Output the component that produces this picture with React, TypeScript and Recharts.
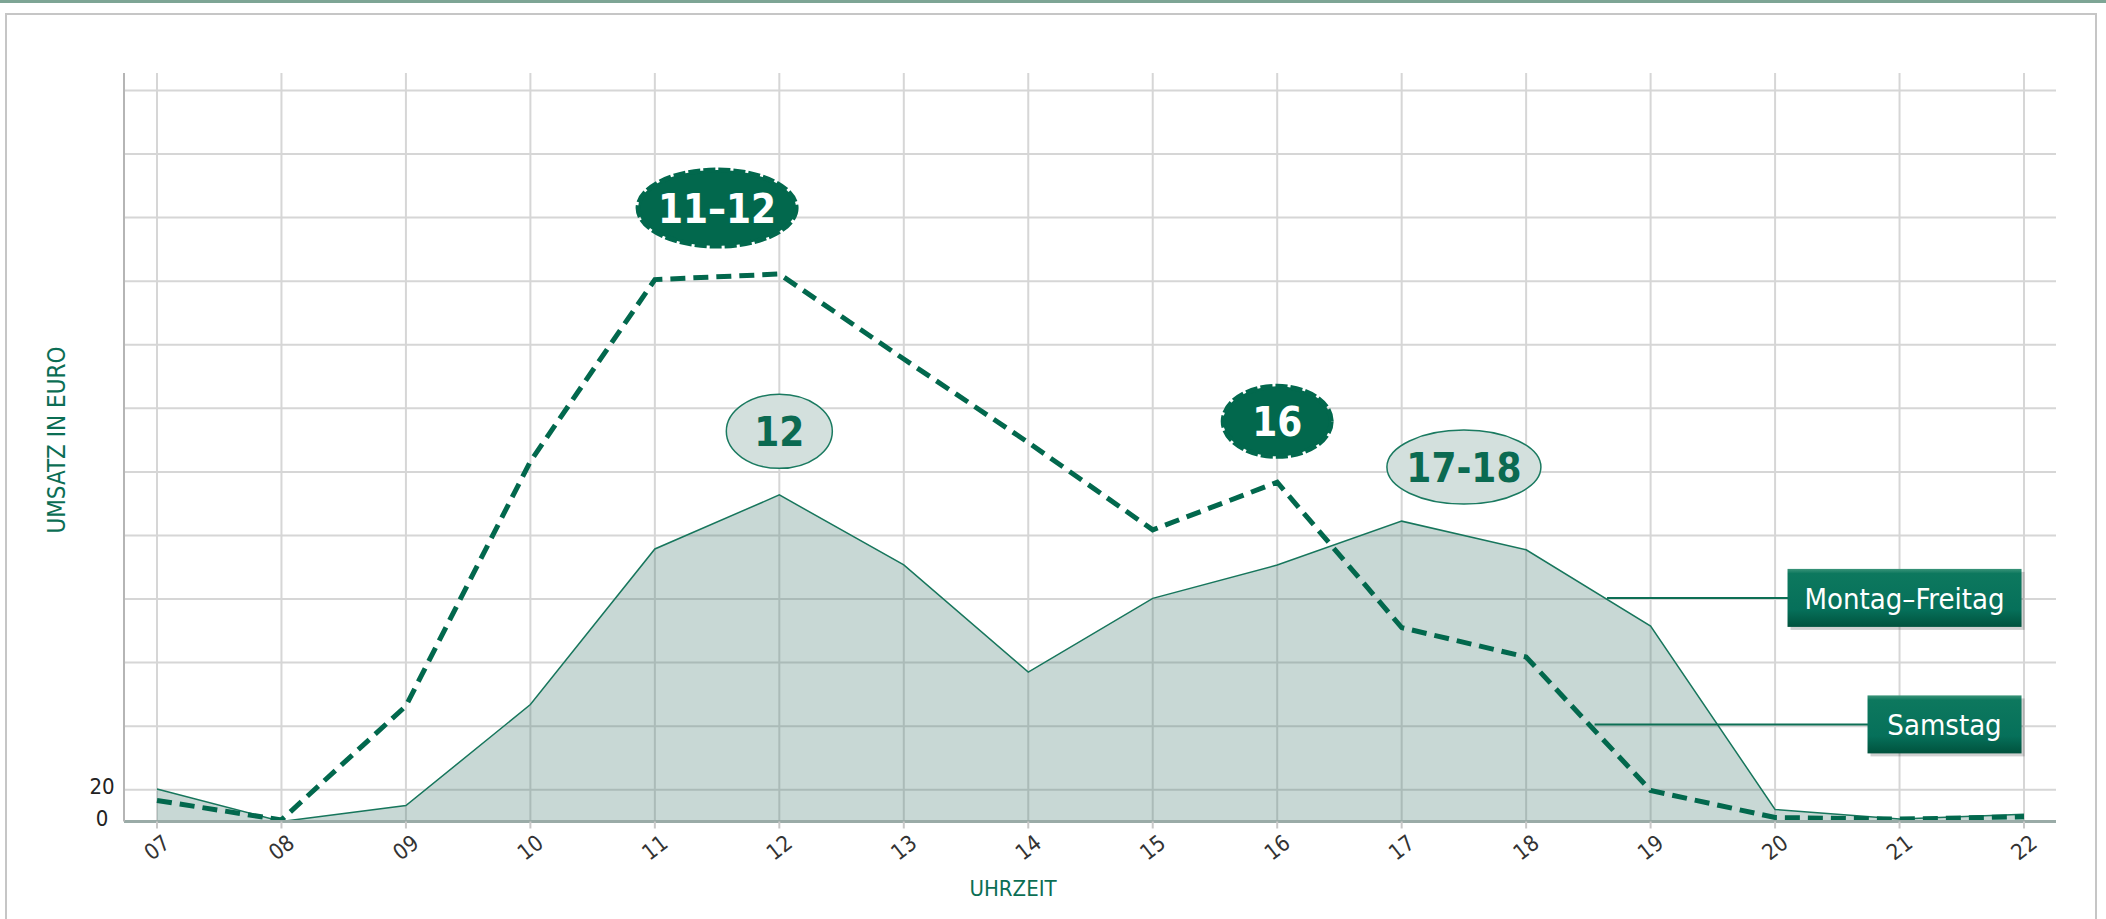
import React from 'react';
import {
  ComposedChart,
  Area,
  Line,
  XAxis,
  YAxis,
  CartesianGrid,
  ReferenceDot,
  ReferenceLine,
} from 'recharts';

// hours of the day (x axis)
const hours = [7, 8, 9, 10, 11, 12, 13, 14, 15, 16, 17, 18, 19, 20, 21, 22];

// turnover per hour
const weekdaySales = [20.5, 0, 10, 73.6, 171.5, 205.5, 161.5, 94, 140.4, 161.4, 189, 171, 123, 7.6, 1.5, 4.5];
const saturdaySales = [13.2, 1, 72.7, 226.6, 341, 344.5, 291, 238.5, 183.5, 213.5, 122, 103.5, 19.5, 2.5, 1.5, 3];

const yTicks = [0, 20, 60, 100, 140, 180, 220, 260, 300, 340, 380, 420, 460];
const yLabels = [0, 20];

// peak annotations
const peakLabels = ['11–12', '12', '16', '17-18'];
const peakHours = [11.5, 12, 16, 17.5];
const peakValues = [386, 245.5, 251.8, 223];
const peakSeries = ['saturday', 'weekday', 'saturday', 'weekday'];

// series callouts
const seriesNames = ['Montag–Freitag', 'Samstag'];
const calloutValues = [140.7, 61.1];
const calloutFrom = [18.65, 18.55];

const X_DOMAIN = [6.735, 22.257];
const Y_MAX = 471;

const GREEN = '#02684d';
const FONT = "'DejaVu Sans Condensed', 'Liberation Sans Narrow', 'DejaVu Sans', sans-serif";
const calloutWidths = [234, 154];

const data = hours.map((h, i) => ({
  hour: h,
  weekday: weekdaySales[i],
  saturday: saturdaySales[i],
}));

// grid only at the real ticks (no extra lines on the plot border)
const hGrid = ({ offset }: any) =>
  offset ? yTicks.map((t) => offset.top + offset.height * (1 - t / Y_MAX)) : [];
const vGrid = ({ offset }: any) =>
  offset
    ? hours.map((h) => offset.left + (offset.width * (h - X_DOMAIN[0])) / (X_DOMAIN[1] - X_DOMAIN[0]))
    : [];

const XTick = ({ x, y, payload }: any) => (
  <g transform={`translate(${x},${y + 17})`}>
    <text
      transform="rotate(-38)"
      textAnchor="middle"
      dominantBaseline="central"
      fontSize={22}
      fontWeight={300}
      fill="#333"
      fontFamily={FONT}
    >
      {String(payload.value).padStart(2, '0')}
    </text>
  </g>
);

const YTick = ({ x, y, payload }: any) => {
  if (!yLabels.includes(payload.value)) return null;
  return (
    <text
      x={x - 22}
      y={y - 3}
      textAnchor="middle"
      dominantBaseline="central"
      fontSize={22}
      fill="#222"
      fontFamily={FONT}
    >
      {payload.value}
    </text>
  );
};

const PeakShape = (label: string, dark: boolean, big: boolean) => (props: any) => {
  const { cx, cy } = props;
  const rx = big ? 79 : dark ? 54 : label.length > 2 ? 77 : 53;
  const ry = big ? 38 : dark ? 35 : 37;
  return (
    <g>
      <ellipse
        cx={cx}
        cy={cy}
        rx={rx}
        ry={ry}
        fill={dark ? GREEN : '#d3e0dd'}
        stroke={dark ? GREEN : '#1a7a60'}
        strokeWidth={dark ? 5 : 1.5}
        strokeDasharray={dark ? '12 3' : undefined}
      />
      <text
        x={cx}
        y={cy + 1}
        textAnchor="middle"
        dominantBaseline="central"
        fontSize={40}
        fontWeight="bold"
        fill={dark ? '#fff' : '#0b6a51'}
        fontFamily={FONT}
      >
        {label}
      </text>
    </g>
  );
};

const CalloutShape = (name: string, w: number, idx: number) => (props: any) => {
  const { cx, cy } = props;
  const h = 58;
  const x0 = cx - w;
  const y0 = cy - h / 2;
  return (
    <g>
      <defs>
        <linearGradient id={`cg${idx}`} x1="0" y1="0" x2="0" y2="1">
          <stop offset="0" stopColor="#3a9479" />
          <stop offset="0.08" stopColor="#0d785e" />
          <stop offset="0.7" stopColor="#06705a" />
          <stop offset="1" stopColor="#00523d" />
        </linearGradient>
      </defs>
      <rect x={x0 + 3} y={y0 + 3} width={w} height={h} fill="#000" opacity={0.18} />
      <rect x={x0} y={y0} width={w} height={h} fill={`url(#cg${idx})`} />
      <text
        x={x0 + w / 2}
        y={cy + 1}
        textAnchor="middle"
        dominantBaseline="central"
        fontSize={29}
        fill="#fff"
        fontFamily={FONT}
      >
        {name}
      </text>
    </g>
  );
};

export default function App() {
  return (
    <div style={{ position: 'relative', width: 2106, height: 919, overflow: 'hidden', background: '#fff' }}>
      <style>{'body{margin:0}'}</style>
      <div style={{ position: 'absolute', left: 0, top: 0, width: 2106, height: 3, background: '#7ea595' }} />
      <div
        style={{
          position: 'absolute',
          left: 5,
          top: 13,
          width: 2088,
          height: 940,
          border: '2px solid #c6c6c6',
        }}
      />
      <div style={{ position: 'absolute', left: 0, top: 0 }}>
        <ComposedChart
          width={2106}
          height={919}
          data={data}
          margin={{ top: 73, right: 50, bottom: 37.5, left: 0 }}
        >
          <CartesianGrid
            stroke="#d6d6d6"
            strokeWidth={2}
            horizontalCoordinatesGenerator={hGrid}
            verticalCoordinatesGenerator={vGrid}
          />
          <XAxis
            dataKey="hour"
            type="number"
            domain={X_DOMAIN}
            allowDataOverflow
            ticks={hours}
            interval={0}
            height={60}
            tick={<XTick />}
            tickSize={7}
            tickMargin={2}
            tickLine={{ stroke: '#c8c8c8', strokeWidth: 2 }}
            axisLine={{ stroke: '#9aaba7', strokeWidth: 3 }}
          />
          <YAxis
            type="number"
            domain={[0, Y_MAX]}
            allowDataOverflow
            ticks={yTicks}
            interval={0}
            width={124}
            tick={<YTick />}
            tickLine={false}
            tickSize={0}
            tickMargin={0}
            axisLine={{ stroke: '#b5b5b5', strokeWidth: 2 }}
          />
          <Area
            type="linear"
            dataKey="weekday"
            stroke="#17765c"
            strokeWidth={1.5}
            fill="#487d73"
            fillOpacity={0.3}
            dot={false}
            activeDot={false}
            isAnimationActive={false}
          />
          <Line
            type="linear"
            dataKey="saturday"
            stroke={GREEN}
            strokeWidth={5}
            strokeDasharray="15 8"
            dot={false}
            activeDot={false}
            isAnimationActive={false}
          />
          {seriesNames.map((name, i) => (
            <ReferenceLine
              key={`l${name}`}
              segment={[
                { x: calloutFrom[i], y: calloutValues[i] },
                { x: 21.5, y: calloutValues[i] },
              ]}
              stroke="#0d6f55"
              strokeWidth={2}
            />
          ))}
          {seriesNames.map((name, i) => (
            <ReferenceDot
              key={`c${name}`}
              x={21.98}
              y={calloutValues[i]}
              shape={CalloutShape(name, calloutWidths[i], i)}
            />
          ))}
          {peakLabels.map((label, i) => (
            <ReferenceDot
              key={`p${label}`}
              x={peakHours[i]}
              y={peakValues[i]}
              shape={PeakShape(label, peakSeries[i] === 'saturday', i === 0)}
            />
          ))}
        </ComposedChart>
      </div>
      <div
        style={{
          position: 'absolute',
          left: 57,
          top: 440,
          transform: 'translate(-50%, -50%) rotate(-90deg)',
          whiteSpace: 'nowrap',
          fontFamily: FONT,
          fontSize: 24,
          color: '#0b6e54',
        }}
      >
        UMSATZ IN EURO
      </div>
      <div
        style={{
          position: 'absolute',
          left: 1013,
          top: 888,
          transform: 'translate(-50%, -50%)',
          whiteSpace: 'nowrap',
          fontFamily: FONT,
          fontSize: 22,
          color: '#0b6e54',
        }}
      >
        UHRZEIT
      </div>
    </div>
  );
}
